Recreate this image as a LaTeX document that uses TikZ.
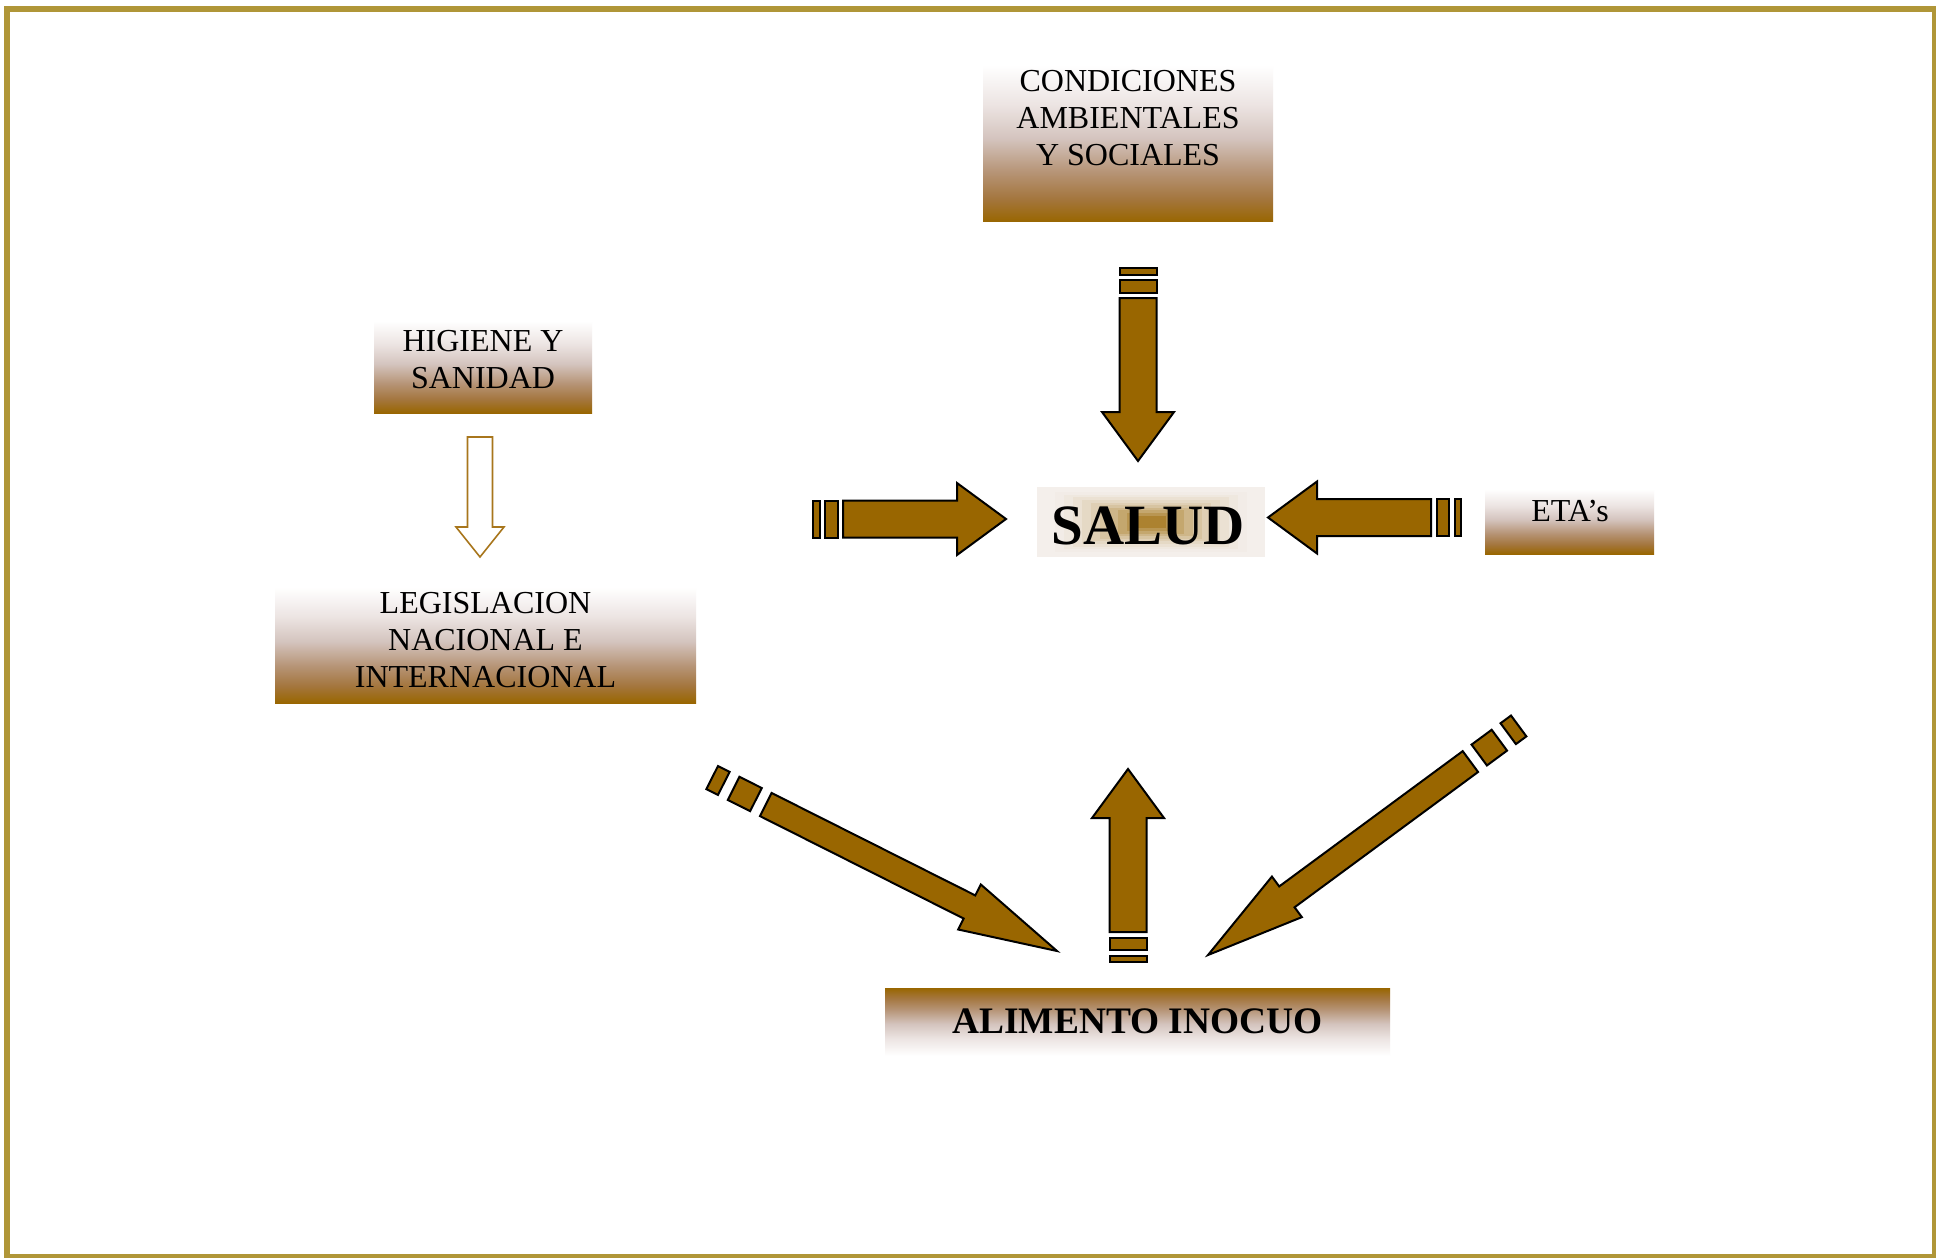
\documentclass[tikz,border=0pt]{standalone}
\usepackage{fontspec}
\setmainfont{Liberation Serif}
\usetikzlibrary{positioning,calc}

\definecolor{arrowbrown}{RGB}{153,102,0}
\definecolor{framegold}{RGB}{176,150,56}
\definecolor{hollowline}{RGB}{168,118,28}
\definecolor{fadewhite}{RGB}{246,242,240}
\definecolor{fadepale}{RGB}{236,228,226}
\definecolor{fademid}{RGB}{212,196,190}
\definecolor{fadelow}{RGB}{182,148,118}
\definecolor{fadedeep}{RGB}{164,118,62}

% white on top, brown at the bottom
\pgfdeclareverticalshading{boxfade}{100bp}{color(0bp)=(arrowbrown); color(25bp)=(arrowbrown); color(32bp)=(fadedeep); color(40bp)=(fadelow); color(50bp)=(fademid); color(60bp)=(fadepale); color(72bp)=(white); color(100bp)=(white)}

% striped block arrow, tip at #2, pointing at angle #3
\newcommand{\stripedarrow}[3][]{%
  \begin{scope}[shift={#2}, rotate=#3, #1]
    \draw[blockarrow] (0,0) -- (-49,36) -- (-49,18.5) -- (-163,18.5) -- (-163,-18.5) -- (-49,-18.5) -- (-49,-36) -- cycle;
    \draw[blockarrow] (-181,-18.5) rectangle (-168.5,18.5);
    \draw[blockarrow] (-193,-18.5) rectangle (-186.5,18.5);
  \end{scope}}

\begin{document}
\begin{tikzpicture}[x=0.5pt, y=-0.5pt,
    every node/.style={inner sep=0pt},
    blockarrow/.style={draw=black, line width=1pt, fill=arrowbrown},
    hollowarrow/.style={draw=hollowline, line width=0.8pt, fill=white},
    fadebox/.style={rectangle, shade, shading=boxfade},
    boxtext/.style={align=center, font=\fontsize{16}{18.5}\selectfont},
    boldtext/.style={font=\bfseries\fontsize{#1}{#1}\selectfont}]

    \useasboundingbox (0,0) rectangle (1936,1257);
    \fill[white] (0,0) rectangle (1936,1257);

    % Draw the frame
    \draw[framegold, line width=3pt] (7,9) rectangle (1935,1257);

    % Draw the boxes
    \node[fadebox, minimum width=145pt, minimum height=83.5pt] (cond) at (1128,138.5) {};
    \node[boxtext] (cond-txt) at (1128,118) {CONDICIONES\\AMBIENTALES\\Y SOCIALES};

    \node[fadebox, minimum width=109pt, minimum height=49pt] (hig) at (483,364) {};
    \node[boxtext] (hig-txt) at (483,359.5) {HIGIENE Y\\SANIDAD};

    \node[fadebox, minimum width=210.5pt, minimum height=61.5pt] (leg) at (485.5,641.5) {};
    \node[boxtext] (leg-txt) at (485.5,640.5) {LEGISLACION\\NACIONAL E\\INTERNACIONAL};

    \node[fadebox, minimum width=84.5pt, minimum height=34.5pt] (eta) at (1569.5,519.5) {};
    \node[boxtext] (eta-txt) at (1570,511.5) {ETA’s};

    \node[fadebox, shading angle=180, minimum width=252.5pt, minimum height=36pt] (alim) at (1137.5,1024) {};
    \node[boldtext=18.7] (alim-txt) at (1137.5,1021.5) {ALIMENTO INOCUO};

    % Draw the salud box, brown in the middle
    \coordinate (saludc) at (1151,522);
    \foreach \i in {0,...,11}{
        \pgfmathsetmacro{\hw}{114-9*\i}
        \pgfmathsetmacro{\hh}{35-2.6*\i}
        \pgfmathtruncatemacro{\pc}{2+0.65*\i*\i}
        \fill[arrowbrown!\pc!fadewhite] ($(saludc)+(-\hw,-\hh)$) rectangle ($(saludc)+(\hw,\hh)$);
    }
    \node[boldtext=28.5] (salud) at (1148.5,526) {SALUD};

    % Draw the hollow arrow
    \draw[hollowarrow] (480,557) -- (456,527) -- (467.5,527) -- (467.5,437) -- (492.5,437) -- (492.5,527) -- (504,527) -- cycle;

    % Draw the arrows round salud
    \stripedarrow{(1138,461)}{-90}
    \stripedarrow{(1006,519)}{0}
    \stripedarrow{(1268,517.5)}{180}
    \stripedarrow{(1128,769)}{90}

    % Draw the long arrows down to alimento
    \stripedarrow[xscale=2, yscale=0.7]{(1057,951)}{-26.7}
    \stripedarrow[xscale=2, yscale=0.7]{(1208,955)}{216.4}

\end{tikzpicture}
\end{document}
